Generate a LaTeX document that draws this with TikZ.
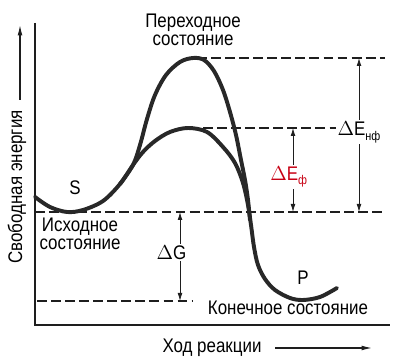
\documentclass[tikz,border=0pt]{standalone}
\usepackage{fontspec}
\setmainfont{Liberation Sans}[FakeStretch=0.86]
\usepackage{tikz}
\usetikzlibrary{arrows.meta, positioning}
\definecolor{cCurve}{RGB}{40,40,40}
\definecolor{cLine}{RGB}{30,30,30}
\definecolor{cRed}{RGB}{200,0,20}
\tikzset{
	curve/.style   ={line width=2.8pt, draw=cCurve, line cap=round, line join=round},
	axis/.style    ={line width=0.8pt, draw=cLine},
	level/.style   ={line width=0.8pt, draw=cLine, dash pattern=on 7pt off 3pt},
	dimarrow/.style={{Latex[length=2mm,width=1.2mm]}-{Latex[length=2mm,width=1.2mm]}, line width=0.6pt, draw=cLine},
	axarrow/.style ={-{Latex[length=2.6mm,width=1.2mm]}, line width=0.8pt, draw=cLine},
	lbl/.style     ={font=\fontsize{14}{13}\selectfont, align=center, inner sep=1pt},
	dlbl/.style    ={lbl, fill=white},
}
\newcommand{\dsub}[1]{\raisebox{-0.45ex}{\fontsize{9}{9}\selectfont #1}}

\begin{document}
\begin{tikzpicture}[x=0.025cm, y=0.025cm]
	\useasboundingbox (0,0) rectangle (402,359);
	\coordinate (org) at (35,34); \coordinate (ytop) at (35,336); \coordinate (xend) at (390,34);
	\draw[axis] (ytop) -- (org) -- (xend);
	\coordinate (ts1) at (197,301); \coordinate (ts1r) at (385,301);
	\coordinate (ts2) at (203,231); \coordinate (ts2r) at (359,231);
	\coordinate (lvs) at (35,147);  \coordinate (lvsr) at (385,147);
	\coordinate (lvp) at (37,58);   \coordinate (lvpr) at (193,58);
	\draw[level] (ts1) -- (ts1r); \draw[level] (ts2) -- (ts2r);
	\draw[level] (lvs) -- (lvsr); \draw[level] (lvp) -- (lvpr);
	\coordinate (pmin) at (303,59);
	\draw[curve] plot[smooth, tension=0.55] coordinates {(35,162) (50,152) (67,147) (83,149) (103,158)
		(120,175) (133,194) (143,207) (155,218) (170,227) (188,231) (207,227) (223,212) (235,196)
		(243,176) (248,154) (251,134) (254,112) (258,94) (265,80) (275,69) (290,61) (303,59) (320,62) (337,71)};
	\draw[curve] plot[smooth, tension=0.55] coordinates {(120,175) (133,194) (140,214) (147,240)
		(155,264) (166,284) (180,297) (193,301) (204,299) (214,288) (223,269) (230,247) (236,224)
		(241,199) (245,179) (248,159) (250,139)};
	\coordinate (anf1) at (359,301); \coordinate (anf2) at (359,147);
	\coordinate (af1) at (293,231);  \coordinate (af2) at (293,147);
	\coordinate (ag1) at (180,147);  \coordinate (ag2) at (180,58);
	\draw[dimarrow] (anf1) -- node[dlbl, yshift=2pt] {$\Delta$E\dsub{нф}} (anf2);
	\draw[dimarrow] (af1) -- node[dlbl, text=cRed, xshift=-3pt, yshift=-5pt] {$\Delta$E\dsub{ф}} (af2);
	\draw[dimarrow] (ag1) -- node[dlbl, xshift=-6pt, yshift=3pt] {$\Delta$G} (ag2);
	\node[lbl] (tslbl) at (193,329) {Переходное\\состояние};
	\node[lbl] (slbl) at (75,171) {S};
	\node[lbl] (srclbl) at (80,125) {Исходное\\состояние};
	\node[lbl, above=10pt of pmin] (plbl) {P};
	\node[lbl] (prodlbl) at (288,51) {Конечное состояние};
	\node[lbl, rotate=90] (ylbl) at (17,172) {Свободная энергия};
	\node[lbl] (xlbl) at (212,11.5) {Ход реакции};
	\coordinate (ya) at (20,259); \coordinate (yb) at (20,334);
	\coordinate (xa) at (275,11); \coordinate (xb) at (372,11);
	\draw[axarrow] (ya) -- (yb); \draw[axarrow] (xa) -- (xb);
\end{tikzpicture}
\end{document}
